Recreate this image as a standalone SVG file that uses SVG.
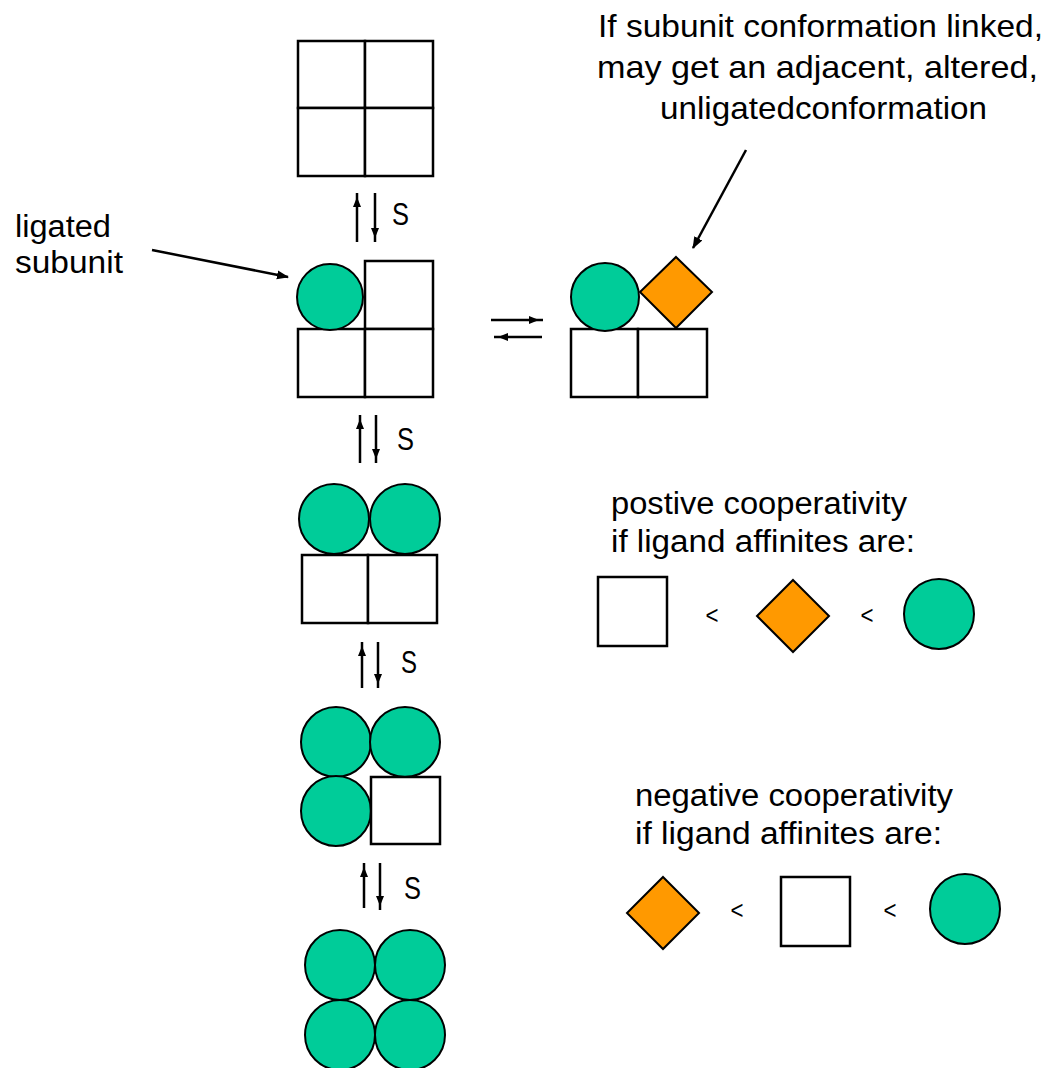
<svg xmlns="http://www.w3.org/2000/svg" width="1050" height="1068" viewBox="0 0 1050 1068">
  <style>
    .box { fill: #ffffff; stroke: #000000; stroke-width: 2.5; }
    .lig { fill: #00cc99; stroke: #000000; stroke-width: 2; }
    .alt { fill: #ff9900; stroke: #000000; stroke-width: 2; }
    .wire { fill: none; stroke: #000000; stroke-width: 2.5; }
    .label { font-family: "Liberation Sans", Arial, sans-serif; fill: #000000; }
    .big { font-size: 32px; }
    .mid { font-size: 31px; }
    .s { font-size: 31px; }
    .lt { font-size: 26px; }
  </style>
  <defs>
    <!-- small arrowhead set back a little from the line end -->
    <marker id="head" viewBox="0 0 20 10" refX="14" refY="5" markerWidth="20" markerHeight="10" markerUnits="userSpaceOnUse" orient="auto">
      <path d="M0,1 L10,5 L0,9 Z" fill="#000000"/>
    </marker>
    <marker id="tip" viewBox="0 0 12 10" refX="11" refY="5" markerWidth="12" markerHeight="10" markerUnits="userSpaceOnUse" orient="auto">
      <path d="M0,0.5 L12,5 L0,9.5 Z" fill="#000000"/>
    </marker>
  </defs>

  <!-- state 1: four unligated subunits -->
  <g id="state0">
    <rect class="box" x="298" y="41" width="67" height="67"/>
    <rect class="box" x="365" y="41" width="68" height="67"/>
    <rect class="box" x="298" y="108" width="67" height="68"/>
    <rect class="box" x="365" y="108" width="68" height="68"/>
  </g>

  <!-- state 2: one ligated subunit -->
  <g id="state1">
    <rect class="box" x="365" y="261" width="68" height="68"/>
    <rect class="box" x="298" y="329" width="67" height="68"/>
    <rect class="box" x="365" y="329" width="68" height="68"/>
    <circle class="lig" cx="330" cy="297" r="33"/>
  </g>

  <!-- altered conformation of the neighbouring subunit -->
  <g id="state1b">
    <rect class="box" x="571" y="329" width="67" height="68"/>
    <rect class="box" x="638" y="329" width="69" height="68"/>
    <circle class="lig" cx="605" cy="297" r="34"/>
    <polygon class="alt" points="676,257 712,292 676,328 640,292"/>
  </g>

  <!-- state 3: two ligated subunits -->
  <g id="state2">
    <rect class="box" x="302" y="555" width="66" height="68"/>
    <rect class="box" x="368" y="555" width="69" height="68"/>
    <circle class="lig" cx="334" cy="519" r="35"/>
    <circle class="lig" cx="405" cy="519" r="35"/>
  </g>

  <!-- state 4: three ligated subunits -->
  <g id="state3">
    <circle class="lig" cx="336" cy="742" r="35"/>
    <circle class="lig" cx="405" cy="742" r="35"/>
    <circle class="lig" cx="336" cy="811" r="35"/>
    <rect class="box" x="371" y="777" width="69" height="67"/>
  </g>

  <!-- state 5: fully ligated -->
  <g id="state4">
    <circle class="lig" cx="340" cy="965" r="35"/>
    <circle class="lig" cx="410" cy="965" r="35"/>
    <circle class="lig" cx="340" cy="1035" r="35"/>
    <circle class="lig" cx="410" cy="1035" r="35"/>
  </g>

  <!-- connectors -->
  <g id="connectors">
    <line class="wire" x1="357" y1="242" x2="357" y2="193" marker-end="url(#head)"/>
    <line class="wire" x1="375" y1="193" x2="375" y2="242" marker-end="url(#head)"/>
    <line class="wire" x1="360" y1="463" x2="360" y2="415" marker-end="url(#head)"/>
    <line class="wire" x1="376" y1="415" x2="376" y2="463" marker-end="url(#head)"/>
    <line class="wire" x1="362" y1="688" x2="362" y2="642" marker-end="url(#head)"/>
    <line class="wire" x1="378" y1="642" x2="378" y2="688" marker-end="url(#head)"/>
    <line class="wire" x1="364" y1="908" x2="364" y2="863" marker-end="url(#head)"/>
    <line class="wire" x1="380" y1="863" x2="380" y2="910" marker-end="url(#head)"/>
    <line class="wire" x1="491" y1="320" x2="543" y2="320" marker-end="url(#head)"/>
    <line class="wire" x1="542" y1="337" x2="494" y2="337" marker-end="url(#head)"/>
    <line class="wire" x1="152" y1="250" x2="288" y2="277" marker-end="url(#tip)"/>
    <line class="wire" x1="746" y1="150" x2="693" y2="248" marker-end="url(#tip)"/>
  </g>

  <!-- substrate labels -->
  <g id="s-labels" class="label s">
    <text x="392" y="225" textLength="17" lengthAdjust="spacingAndGlyphs">S</text>
    <text x="397" y="450" textLength="17" lengthAdjust="spacingAndGlyphs">S</text>
    <text x="401" y="673" textLength="16" lengthAdjust="spacingAndGlyphs">S</text>
    <text x="404" y="899" textLength="17" lengthAdjust="spacingAndGlyphs">S</text>
  </g>

  <g id="note-ligated" class="label mid">
    <text x="15" y="237" textLength="96" lengthAdjust="spacingAndGlyphs">ligated</text>
    <text x="15" y="273" textLength="108" lengthAdjust="spacingAndGlyphs">subunit</text>
  </g>

  <g id="note-linked" class="label big">
    <text x="598" y="37" textLength="445" lengthAdjust="spacingAndGlyphs">If subunit conformation linked,</text>
    <text x="597" y="78" textLength="441" lengthAdjust="spacingAndGlyphs">may get an adjacent, altered,</text>
    <text x="660" y="119" textLength="327" lengthAdjust="spacingAndGlyphs">unligatedconformation</text>
  </g>

  <!-- positive cooperativity legend -->
  <g id="legend-positive">
    <text class="label mid" x="611" y="514" textLength="296" lengthAdjust="spacingAndGlyphs">postive cooperativity</text>
    <text class="label mid" x="611" y="552" textLength="304" lengthAdjust="spacingAndGlyphs">if ligand affinites are:</text>
    <rect class="box" x="598" y="577" width="69" height="69"/>
    <text class="label lt" x="712" y="624" text-anchor="middle" textLength="13" lengthAdjust="spacingAndGlyphs">&lt;</text>
    <polygon class="alt" points="793,580 829,616 793,652 757,616"/>
    <text class="label lt" x="867" y="624" text-anchor="middle" textLength="13" lengthAdjust="spacingAndGlyphs">&lt;</text>
    <circle class="lig" cx="939" cy="614" r="35"/>
  </g>

  <!-- negative cooperativity legend -->
  <g id="legend-negative">
    <text class="label mid" x="635" y="806" textLength="318" lengthAdjust="spacingAndGlyphs">negative cooperativity</text>
    <text class="label mid" x="635" y="844" textLength="307" lengthAdjust="spacingAndGlyphs">if ligand affinites are:</text>
    <polygon class="alt" points="663,877 699,913 663,949 627,913"/>
    <text class="label lt" x="737" y="919" text-anchor="middle" textLength="13" lengthAdjust="spacingAndGlyphs">&lt;</text>
    <rect class="box" x="781" y="877" width="69" height="69"/>
    <text class="label lt" x="890" y="919" text-anchor="middle" textLength="13" lengthAdjust="spacingAndGlyphs">&lt;</text>
    <circle class="lig" cx="965" cy="909" r="35"/>
  </g>
</svg>
